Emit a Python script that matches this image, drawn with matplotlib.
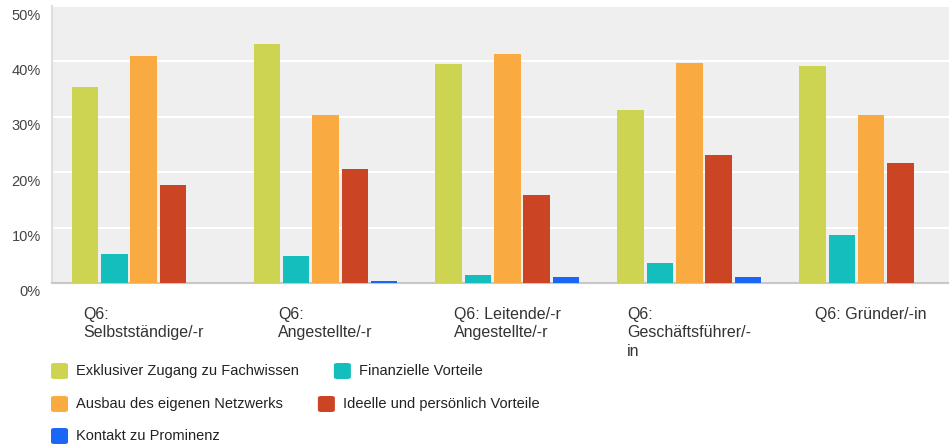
import matplotlib

matplotlib.use("Agg")
import matplotlib.pyplot as plt
import numpy as np
from matplotlib.patches import FancyBboxPatch
from matplotlib.transforms import ScaledTranslation

plt.rcParams["font.family"] = ["Liberation Sans", "DejaVu Sans"]

groups = [
    "Q6:\nSelbstständige/-r",
    "Q6:\nAngestellte/-r",
    "Q6: Leitende/-r\nAngestellte/-r",
    "Q6:\nGeschäftsführer/-\nin",
    "Q6: Gründer/-in",
]
series_names = [
    "Exklusiver Zugang zu Fachwissen",
    "Finanzielle Vorteile",
    "Ausbau des eigenen Netzwerks",
    "Ideelle und persönlich Vorteile",
    "Kontakt zu Prominenz",
]
zugang = [35.3, 43.2, 39.6, 31.3, 39.1]
finanziell = [5.2, 4.8, 1.5, 3.7, 8.6]
netzwerk = [40.9, 30.4, 41.4, 39.7, 30.4]
ideell = [17.6, 20.6, 15.8, 23.1, 21.6]
prominenz = [0.0, 0.4, 1.0, 1.0, 0.0]
y_ticks = [0, 10, 20, 30, 40, 50]

colors = ["#cdd452", "#13bebd", "#f9ab42", "#cb4424", "#1a66f5"]
series = [zugang, finanziell, netzwerk, ideell, prominenz]

W, H = 949, 446
fig = plt.figure(figsize=(W / 100, H / 100), dpi=100)
ax = fig.add_axes([52 / W, 1 - 283 / H, 1 - 52 / W, (283 - 6) / H])
ax.set_facecolor("#efefef")

x = np.arange(len(groups))
step = 0.1613
width = 0.146
for k in range(len(series)):
    ax.bar(x + (k - 2) * step, series[k], width=width, color=colors[k], zorder=3)

ax.set_ylim(0, 50)
ax.set_xlim(-0.504, 4.428)
ax.set_yticks(y_ticks)
ax.set_yticklabels([str(v) + "%" for v in y_ticks], fontsize=10.5, color="#444444")
ax.yaxis.grid(True, color="white", linewidth=1.5, zorder=1)
ax.set_axisbelow(True)
ax.tick_params(axis="y", length=0, pad=8)
ax.tick_params(axis="x", length=0, pad=17)
offset = ScaledTranslation(0, -0.08, fig.dpi_scale_trans)
for label in ax.get_yticklabels():
    label.set_transform(label.get_transform() + offset)

ax.set_xticks(x)
ax.set_xticklabels(groups, fontsize=11.5, color="#333333", ha="center",
                   multialignment="left", linespacing=1.3)

for side in ["top", "right"]:
    ax.spines[side].set_visible(False)
ax.spines["bottom"].set_color("#c8c8c8")
ax.spines["bottom"].set_linewidth(1.5)
ax.spines["left"].set_color("#dedede")
ax.spines["left"].set_linewidth(1.5)

# legend: items flow left to right, like the original
renderer = fig.canvas.get_renderer()
legend_rows = [[0, 1], [2, 3], [4]]
row_y = [371, 404, 436]
for r in range(len(legend_rows)):
    px = 51
    for idx in legend_rows[r]:
        box = FancyBboxPatch(
            (px / W, 1 - (row_y[r] + 8) / H), 17 / W, 16 / H,
            boxstyle="round,pad=0,rounding_size=0.004",
            transform=fig.transFigure, facecolor=colors[idx],
            edgecolor="none",
        )
        fig.patches.append(box)
        t = fig.text((px + 25) / W, 1 - row_y[r] / H, series_names[idx],
                     fontsize=10.5, color="#222222", va="center", ha="left")
        bb = t.get_window_extent(renderer)
        px = bb.x1 + 35

fig.savefig("out.png", dpi=100)
